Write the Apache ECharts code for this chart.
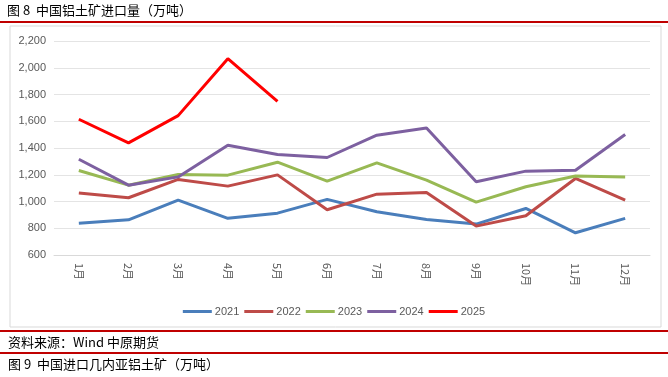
<!DOCTYPE html>
<html>
<head>
<meta charset="utf-8">
<script src="https://cdn.jsdelivr.net/npm/echarts@6/dist/echarts.min.js"></script>
<style>
  html, body { margin: 0; padding: 0; background: #fff; }
  #chart { width: 668px; height: 377px; }
</style>
</head>
<body>
<div id="chart"></div>
<script>
const months = ["1月", "2月", "3月", "4月", "5月", "6月", "7月", "8月", "9月", "10月", "11月", "12月"];
const yearNames = ["2021", "2022", "2023", "2024", "2025"];
const v2021 = [837, 863, 1010, 874, 913, 1016, 923, 866, 831, 948, 766, 874];
const v2022 = [1063, 1028, 1165, 1115, 1199, 938, 1055, 1068, 816, 893, 1172, 1010];
const v2023 = [1232, 1122, 1202, 1197, 1294, 1152, 1289, 1160, 995, 1110, 1190, 1184];
const v2024 = [1316, 1122, 1184, 1421, 1351, 1329, 1496, 1550, 1147, 1227, 1234, 1501];
const v2025 = [1615, 1438, 1642, 2068, 1749];
const lineColors = ["#4A7EBB", "#BE4B48", "#98B954", "#7D60A0", "#FF0000"];

const allValues = [v2021, v2022, v2023, v2024, v2025];
const cjk = "'Noto Sans CJK SC', sans-serif";
const latin = "'Liberation Sans', Arial, sans-serif";
const redRule = "#C00000";

const chart = echarts.init(document.getElementById("chart"), null, { renderer: "canvas" });

chart.setOption({
  animation: false,
  backgroundColor: "#fff",
  color: lineColors,
  graphic: [
    { type: "text", left: 7, top: 4, style: { text: "图 8  中国铝土矿进口量（万吨）", font: "13px " + cjk, fill: "#000" } },
    { type: "rect", shape: { x: 0, y: 21, width: 668, height: 2 }, style: { fill: redRule } },
    { type: "rect", shape: { x: 10, y: 26, width: 651, height: 301 }, style: { fill: "none", stroke: "#d9d9d9", lineWidth: 1 } },
    { type: "rect", shape: { x: 0, y: 330, width: 668, height: 2 }, style: { fill: redRule } },
    { type: "text", left: 8, top: 336, style: { text: "资料来源：Wind 中原期货", font: "13px " + cjk, fill: "#000" } },
    { type: "rect", shape: { x: 0, y: 352, width: 668, height: 2 }, style: { fill: redRule } },
    { type: "text", left: 8, top: 358, style: { text: "图 9  中国进口几内亚铝土矿（万吨）", font: "13px " + cjk, fill: "#000" } }
  ],
  legend: {
    top: 301,
    left: "center",
    itemWidth: 29,
    itemHeight: 3,
    itemGap: 5,
    icon: "rect",
    textStyle: { color: "#595959", fontSize: 11, fontFamily: latin, padding: [0, 0, 0, -2] },
    data: yearNames
  },
  grid: { left: 54, right: 18, top: 41, bottom: 122, containLabel: false },
  xAxis: {
    type: "category",
    data: months,
    boundaryGap: true,
    axisLine: { show: true, lineStyle: { color: "#d9d9d9" } },
    axisTick: { show: false },
    axisLabel: { rotate: -90, color: "#595959", fontSize: 11, fontFamily: cjk, margin: 8 }
  },
  yAxis: {
    type: "value",
    min: 600,
    max: 2200,
    interval: 200,
    axisLine: { show: false },
    axisTick: { show: false },
    axisLabel: {
      color: "#595959",
      fontSize: 11,
      fontFamily: latin,
      formatter: (v) => v.toLocaleString("en-US")
    },
    splitLine: { lineStyle: { color: "#e4e4e4", width: 1 } }
  },
  series: yearNames.map((name, i) => ({
    name,
    type: "line",
    data: allValues[i],
    symbol: "none",
    lineStyle: { width: 3, color: lineColors[i] },
    itemStyle: { color: lineColors[i] },
    z: 2 + i
  }))
});
</script>
</body>
</html>
